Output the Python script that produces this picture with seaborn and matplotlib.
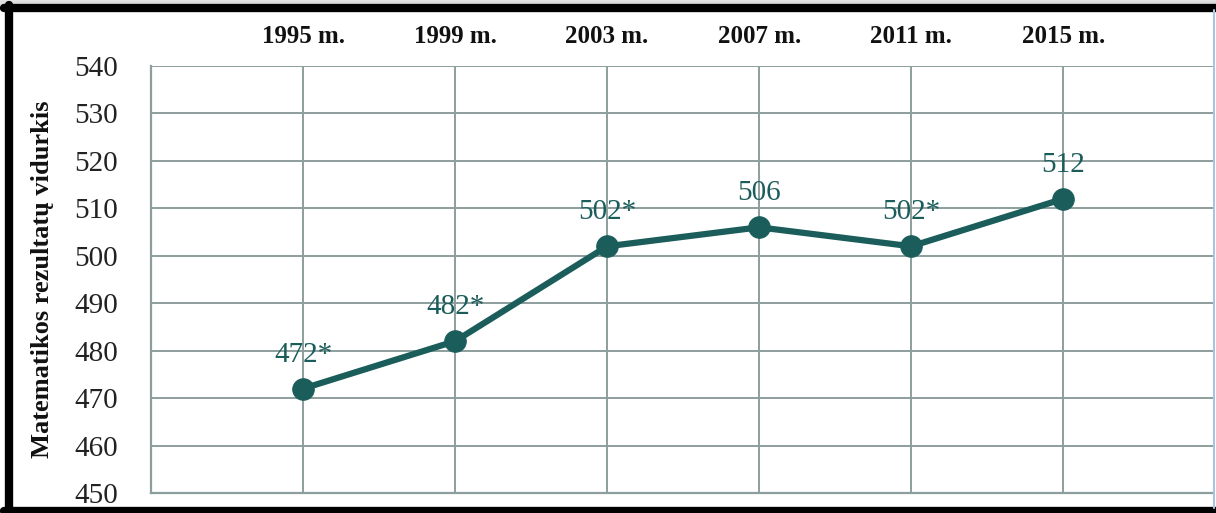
import matplotlib
matplotlib.use("Agg")
import matplotlib.pyplot as plt
from matplotlib.lines import Line2D
import seaborn as sns
import pandas as pd

years = ["1995 m.", "1999 m.", "2003 m.", "2007 m.", "2011 m.", "2015 m."]
scores = [472, 482, 502, 506, 502, 512]
point_labels = ["472*", "482*", "502*", "506", "502*", "512"]
y_ticks = [450, 460, 470, 480, 490, 500, 510, 520, 530, 540]
y_title = "Matematikos rezultatų vidurkis"

sns.set_theme(style="whitegrid")
plt.rcParams["font.family"] = ["Liberation Serif", "DejaVu Serif"]

line_color = "#1b5d5b"
grid_color = "#8c9e9d"

df = pd.DataFrame({"pos": range(len(years)), "score": scores})

fig = plt.figure(figsize=(12.16, 5.13), dpi=100)
ax = fig.add_axes([0.1242, 0.039, 0.9975 - 0.1242, 0.8713 - 0.039])

sns.lineplot(data=df, x="pos", y="score", ax=ax, color=line_color,
             linewidth=4.5, marker="o", markersize=15.5,
             markeredgecolor=line_color, markerfacecolor=line_color, zorder=5)

for xi, yi, lab in zip(df["pos"], df["score"], point_labels):
    ax.annotate(lab, (xi, yi), xytext=(0, 15), textcoords="offset points",
                ha="center", va="bottom", fontsize=21, color=line_color, zorder=6)

ax.set_xlim(-1, 5.985)
ax.set_ylim(450, 540)
ax.set_yticks(y_ticks)
ax.set_xticks(list(range(-1, 6)))
ax.set_xticklabels([""] + years, fontsize=18, fontweight="bold", color="#111111")
ax.xaxis.tick_top()
ax.tick_params(axis="x", length=0, pad=13)
ax.tick_params(axis="y", length=0, pad=24, labelsize=21, labelcolor="#222222")
ax.set_xlabel("")
ax.set_ylabel(y_title, fontsize=19, fontweight="bold", color="#111111", labelpad=14)

ax.grid(True, color=grid_color, linewidth=1.4)
ax.set_facecolor("white")
for side in ["top", "right"]:
    ax.spines[side].set_visible(False)
for side in ["left", "bottom"]:
    ax.spines[side].set_visible(True)
    ax.spines[side].set_color(grid_color)
    ax.spines[side].set_linewidth(1.6)

# outer frame of the figure
fig.add_artist(Line2D([0.0, 1.0], [0.995, 0.995], transform=fig.transFigure,
                      color="#dddddd", linewidth=4))
fig.add_artist(Line2D([0.003, 1.0], [0.985, 0.985], transform=fig.transFigure,
                      color="black", linewidth=6))
fig.add_artist(Line2D([0.007, 0.007], [0.0, 0.99], transform=fig.transFigure,
                      color="black", linewidth=6))
fig.add_artist(Line2D([0.003, 1.0], [0.004, 0.004], transform=fig.transFigure,
                      color="black", linewidth=6))
fig.add_artist(Line2D([0.9985, 0.9985], [0.01, 0.98], transform=fig.transFigure,
                      color="#a9c4e0", linewidth=1.5))

fig.savefig("out.png", dpi=100, facecolor="white")
